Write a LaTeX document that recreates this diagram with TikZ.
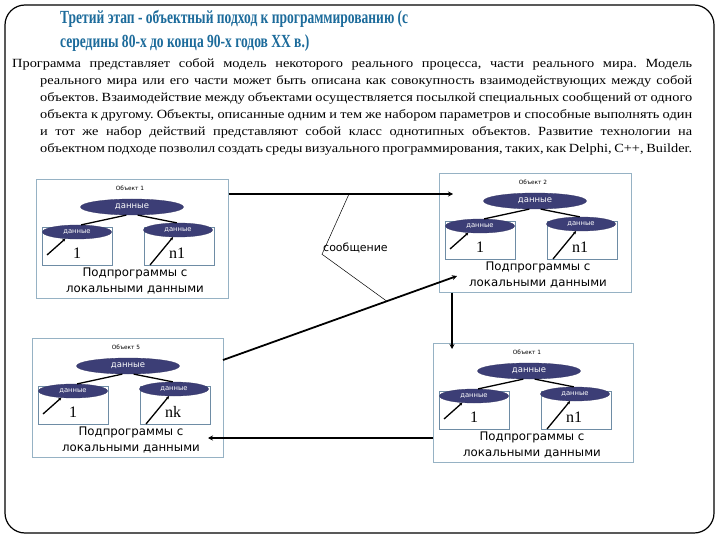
\documentclass[tikz,border=0pt]{standalone}
\usepackage{fontspec}
\setmainfont{Liberation Serif}
\newfontfamily\sansf{DejaVu Sans}
\newfontfamily\bodyf{Liberation Serif}[FakeStretch=1.15]
\newfontfamily\titlef{Liberation Serif}[FakeStretch=0.73]
\usetikzlibrary{shapes.geometric,arrows.meta,calc}
\definecolor{titleblue}{RGB}{28,107,155}
\definecolor{boxedge}{RGB}{150,178,196}
\definecolor{subedge}{RGB}{110,140,165}
\definecolor{ellfill}{RGB}{60,62,118}
\tikzset{
  objbox/.style={draw=boxedge, line width=0.7pt, fill=white, inner sep=0, anchor=north west},
  subbox/.style={draw=subedge, line width=0.6pt, inner sep=0, minimum width=70pt, minimum height=38pt},
  bigell/.style={ellipse, fill=ellfill, draw=ellfill!85!black, line width=0.3pt, inner sep=0,
    minimum width=103pt, minimum height=16pt, text=white, font=\sansf\fontsize{8.5}{9}\selectfont},
  smallell/.style={ellipse, fill=ellfill, draw=ellfill!85!black, line width=0.3pt, inner sep=0,
    minimum width=69pt, minimum height=14pt, text=white, font=\sansf\fontsize{6.8}{7}\selectfont},
  treeline/.style={line width=1.3pt},
  footline/.style={line width=1.3pt, -{Stealth[length=3pt,width=3pt]}},
  numtxt/.style={font=\fontsize{16}{16}\selectfont, inner sep=0},
  subtxt/.style={font=\sansf\fontsize{11.8}{16.5}\selectfont, align=center, inner sep=0},
  objlbl/.style={font=\sansf\fontsize{5.8}{6}\selectfont, inner sep=0},
  conn/.style={line width=1.8pt, -{Stealth[length=5pt,width=5pt]}},
  callout/.style={line width=0.5pt},
  bodyline/.style={anchor=base west, inner sep=0, font=\bodyf\fontsize{12.5}{17}\selectfont\frenchspacing},
  titleline/.style={anchor=base west, inner sep=0, text=titleblue, font=\titlef\bfseries\fontsize{18.5}{22}\selectfont},
  pics/objgroup/.style n args={3}{code={
    \node[objbox, minimum width=#3, minimum height=119pt] (-box) at (0,0) {};
    \node[objlbl] (-lbl) at (94,9) {#1};
    \node[subbox] (-lsub) at (41,67) {};
    \node[subbox] (-rsub) at (143,67) {};
    \node[bigell] (-data) at (96,28) {данные};
    \node[smallell] (-ldata) at (41,53) {данные};
    \node[smallell] (-rdata) at (142,51) {данные};
    \node[numtxt] (-lnum) at (41,74) {1};
    \node[numtxt] (-rnum) at (141,74) {#2};
    \node[subtxt] (-txt) at (99,102) {Подпрограммы с\\локальными данными};
    \coordinate (-lfoot) at (11,76);
    \coordinate (-rfoot) at (114,86);
    \draw[treeline] (-ldata.60) -- (-data.235);
    \draw[treeline] (-rdata.100) -- (-data.305);
    \draw[footline] (-lfoot) -- (-ldata.210);
    \draw[footline] (-rfoot) -- (-rdata.235);
  }}
}
\begin{document}
\begin{tikzpicture}[x=1pt,y=-1pt]
\useasboundingbox (0,0) rectangle (720,540);
\fill[white] (0,0) rectangle (720,540);
\draw[line width=1.2pt, rounded corners=20pt] (5,5) rectangle (714,533);

\node[titleline] (title1) at (60,24) {Третий этап - объектный подход к программированию (с};
\node[titleline] (title2) at (60,48) {середины 80-х до конца 90-х годов XX в.)};

\node[bodyline] (b1) at (12,68) {\makebox[680pt][s]{Программа представляет собой модель некоторого реального процесса, части реального мира. Модель}};
\node[bodyline] (b2) at (40,85) {\makebox[652pt][s]{реального мира или его части может быть описана как совокупность взаимодействующих между собой}};
\node[bodyline] (b3) at (40,102) {\makebox[652pt][s]{объектов. Взаимодействие между объектами осуществляется посылкой специальных сообщений от одного}};
\node[bodyline] (b4) at (40,119) {\makebox[652pt][s]{объекта к другому. Объекты, описанные одним и тем же набором параметров и способные выполнять один}};
\node[bodyline] (b5) at (40,136) {\makebox[652pt][s]{и тот же набор действий представляют собой класс однотипных объектов. Развитие технологии на}};
\node[bodyline] (b6) at (40,153) {\makebox[652pt][s]{объектном подходе позволил создать среды визуального программирования, таких, как Delphi, C++, Builder.}};

\pic (o1) at (36,179) {objgroup={Объект 1}{n1}{192pt}};
\pic (o2) at (439,173) {objgroup={Объект 2}{n1}{192pt}};
\pic (o5) at (32,338) {objgroup={Объект 5}{nk}{191pt}};
\pic (o1b) at (433,343) {objgroup={Объект 1}{n1}{200pt}};

\coordinate (m1e) at (453,194);
\coordinate (m2s) at (223,360);
\coordinate (m2e) at (457,276);
\coordinate (m3e) at (452,349);
\coordinate (m4e) at (208,438);

\draw[conn] (o1-box.east |- m1e) -- (m1e);
\draw[conn] (m2s) -- (m2e);
\draw[conn] (m3e |- o2-box.south) -- (m3e);
\draw[conn] (o1b-box.west |- m4e) -- (m4e);

\node[anchor=west, inner sep=1pt, font=\sansf\fontsize{11}{13}\selectfont] (msg) at (322,248) {сообщение};
\coordinate (p1) at (349,194);
\coordinate (p2) at ($(m2s)!0.7!(m2e)$);
\draw[callout] (p1) -- (msg.south west) -- (p2);
\end{tikzpicture}
\end{document}
